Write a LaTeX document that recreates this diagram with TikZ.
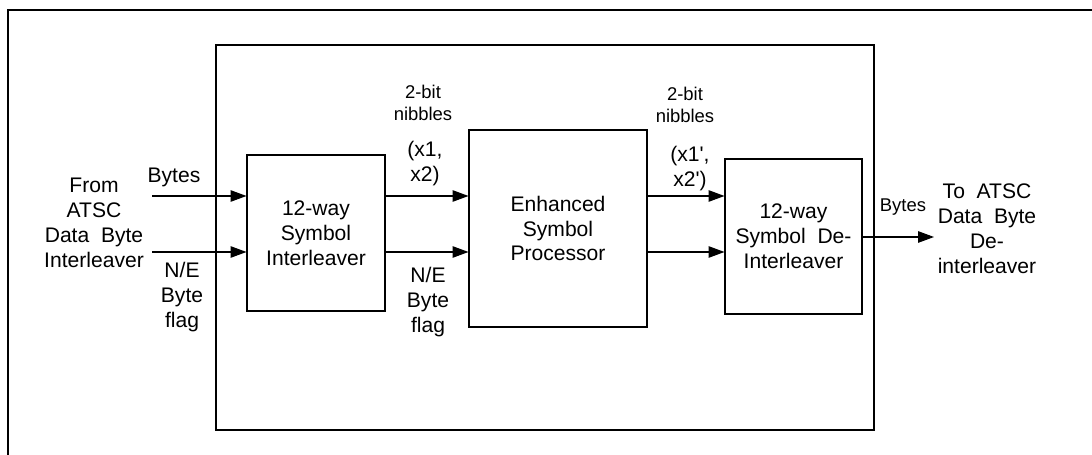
\documentclass[tikz,border=0pt]{standalone}
\usepackage{fontspec}
\setmainfont{Liberation Sans}
\usepackage{tikz}
\usetikzlibrary{arrows.meta,calc}
\tikzset{
  blk/.style = {draw, line width=0.6pt, inner sep=2pt, align=center,
    font=\fontsize{12}{14.2}\selectfont},
  txt/.style = {align=center, inner sep=1pt, font=\fontsize{12}{14.2}\selectfont},
  sml/.style = {align=center, inner sep=1pt, font=\fontsize{10.5}{12.3}\selectfont},
  arr/.style = {line width=0.6pt, -{Triangle[length=9pt,width=6.5pt]}}
}

\begin{document}
\begin{tikzpicture}[x=0.02cm, y=-0.02cm]
			\useasboundingbox (0,0) rectangle (1092,455);
			% outer frame
			\draw[line width=0.6pt] (8,455) -- (8,10) -- (1092,10);
			% enclosing box
			\draw[line width=0.6pt] (216,45) rectangle (874,430);
			% blocks
			\node[blk, minimum width=138*0.02cm, minimum height=156*0.02cm] (il)
				at (316,233) {12-way\\Symbol\\Interleaver};
			\node[blk, minimum width=178*0.02cm, minimum height=197*0.02cm] (esp)
				at (558,228.5) {Enhanced\\Symbol\\Processor};
			\node[blk, minimum width=137*0.02cm, minimum height=155*0.02cm] (dil)
				at (793.5,236.5) {12-way\\Symbol~~De-\\Interleaver};
			% ends of the free arrows
			\coordinate (in1) at (152,196);
			\coordinate (in2) at (152,252);
			\coordinate (out) at (934,237);
			% arrows
			\draw[arr] (in1) -- (il.west |- in1);
			\draw[arr] (in2) -- (il.west |- in2);
			\draw[arr] (il.east |- in1) -- (esp.west |- in1);
			\draw[arr] (il.east |- in2) -- (esp.west |- in2);
			\draw[arr] (esp.east |- in1) -- (dil.west |- in1);
			\draw[arr] (esp.east |- in2) -- (dil.west |- in2);
			\draw[arr] (dil.east |- out) -- (out);
			% labels
			\node[txt] (src) at (94,223) {From\\ATSC\\Data~~Byte\\Interleaver};
			\node[txt] (byin) at (174,177) {Bytes};
			\node[txt] (nein) at (182,297) {N/E\\Byte\\flag};
			\node[sml] (nib1) at (423,103) {2-bit\\nibbles};
			\node[txt] (xx1) at (425,164) {(x1,\\x2)};
			\node[txt] (nemid) at (428,302) {N/E\\Byte\\flag};
			\node[sml] (nib2) at (685,105) {2-bit\\nibbles};
			\node[txt] (xx2) at (690,169) {(x1\textquotesingle,\\x2\textquotesingle)};
			\node[sml] (byout) at (903,207) {Bytes};
			\node[txt] (dst) at (987,229) {To~~ATSC\\Data~~Byte\\De-\\interleaver};
		\end{tikzpicture}
\end{document}
